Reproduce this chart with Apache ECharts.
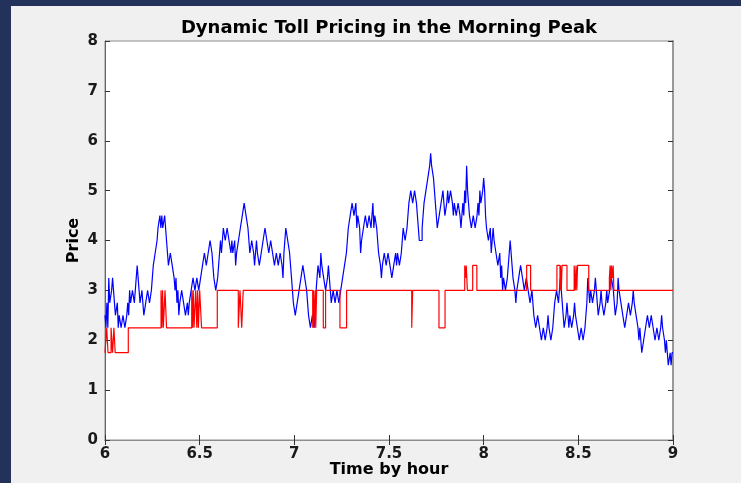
<!DOCTYPE html>
<html>
<head>
<meta charset="utf-8">
<script src="https://cdn.jsdelivr.net/npm/echarts@6/dist/echarts.min.js"></script>
<style>
  html, body { margin: 0; padding: 0; background: #f0f0f0; }
  #chart { width: 741px; height: 483px; }
</style>
</head>
<body>
<div id="chart"></div>
<script>
// Market price, sampled every 0.005 hour starting at 6:00 (one row per 0.05 hour)
const priceStartHour = 6;
const priceStepHour = 0.005;
const marketPrice = [
  2.5, 2.25, 2.75, 2.25, 3.25, 2.75, 2.75, 3.0, 3.25, 3.0,
  2.75, 2.5, 2.5, 2.75, 2.25, 2.5, 2.5, 2.25, 2.25, 2.5,
  2.5, 2.25, 2.25, 2.5, 2.75, 2.5, 3.0, 2.75, 2.75, 3.0,
  3.0, 2.75, 2.75, 3.25, 3.5, 3.25, 3.0, 2.75, 2.75, 3.0,
  2.75, 2.5, 2.5, 2.75, 2.75, 3.0, 3.0, 2.75, 2.75, 3.0,
  3.25, 3.5, 3.5, 3.75, 3.75, 4.0, 4.25, 4.25, 4.5, 4.25,
  4.5, 4.25, 4.25, 4.5, 4.25, 4.0, 3.75, 3.5, 3.5, 3.75,
  3.75, 3.5, 3.5, 3.25, 3.0, 3.25, 2.75, 3.0, 2.5, 2.75,
  2.75, 3.0, 3.0, 2.75, 2.75, 2.5, 2.5, 2.75, 2.5, 2.75,
  2.75, 3.0, 3.0, 3.25, 3.25, 3.0, 3.0, 3.25, 3.25, 3.0,
  3.0, 3.25, 3.25, 3.5, 3.5, 3.75, 3.75, 3.5, 3.5, 3.75,
  3.75, 4.0, 4.0, 3.75, 3.5, 3.25, 3.25, 3.0, 3.0, 3.25,
  3.5, 3.75, 4.0, 3.75, 4.0, 4.25, 4.25, 4.0, 4.0, 4.25,
  4.25, 4.0, 4.0, 3.75, 4.0, 3.75, 3.75, 4.0, 3.5, 3.75,
  3.75, 4.0, 4.0, 4.25, 4.25, 4.5, 4.5, 4.75, 4.75, 4.5,
  4.5, 4.25, 4.0, 3.75, 3.75, 4.0, 4.0, 3.75, 3.5, 3.75,
  4.0, 3.75, 3.75, 3.5, 3.5, 3.75, 3.75, 4.0, 4.0, 4.25,
  4.25, 4.0, 4.0, 3.75, 3.75, 4.0, 4.0, 3.75, 3.75, 3.5,
  3.5, 3.75, 3.75, 3.5, 3.5, 3.75, 3.75, 3.5, 3.25, 3.75,
  4.0, 4.25, 4.25, 4.0, 4.0, 3.75, 3.5, 3.25, 3.0, 2.75,
  2.75, 2.5, 2.5, 2.75, 2.75, 3.0, 3.0, 3.25, 3.25, 3.5,
  3.5, 3.25, 3.25, 3.0, 2.75, 2.5, 2.5, 2.25, 2.25, 2.5,
  2.5, 2.25, 2.75, 3.0, 3.25, 3.5, 3.5, 3.25, 3.75, 3.5,
  3.5, 3.25, 3.25, 3.0, 3.0, 3.25, 3.5, 3.25, 3.0, 2.75,
  2.75, 3.0, 3.0, 2.75, 2.75, 3.0, 3.0, 2.75, 2.75, 3.0,
  3.0, 3.25, 3.25, 3.5, 3.5, 3.75, 4.0, 4.25, 4.25, 4.5,
  4.5, 4.75, 4.75, 4.5, 4.5, 4.75, 4.25, 4.5, 4.5, 4.25,
  3.75, 4.0, 4.0, 4.25, 4.25, 4.5, 4.5, 4.25, 4.25, 4.5,
  4.5, 4.25, 4.5, 4.75, 4.25, 4.5, 4.5, 4.25, 4.0, 3.75,
  3.75, 3.5, 3.25, 3.5, 3.5, 3.75, 3.75, 3.5, 3.5, 3.75,
  3.75, 3.5, 3.5, 3.25, 3.25, 3.5, 3.5, 3.75, 3.5, 3.75,
  3.75, 3.5, 3.5, 3.75, 4.0, 4.25, 4.25, 4.0, 4.0, 4.25,
  4.5, 4.75, 4.75, 5.0, 5.0, 4.75, 4.75, 5.0, 5.0, 4.75,
  4.5, 4.25, 4.0, 4.0, 4.0, 4.25, 4.5, 4.75, 4.75, 5.0,
  5.0, 5.25, 5.25, 5.5, 5.75, 5.5, 5.5, 5.25, 5.0, 4.75,
  4.5, 4.25, 4.25, 4.5, 4.5, 4.75, 4.75, 5.0, 4.75, 4.5,
  4.5, 4.75, 5.0, 4.75, 4.75, 5.0, 5.0, 4.75, 4.5, 4.75,
  4.75, 4.5, 4.5, 4.75, 4.75, 4.5, 4.25, 4.5, 4.75, 4.5,
  5.0, 4.75, 5.5, 5.0, 4.75, 4.5, 4.5, 4.25, 4.25, 4.5,
  4.5, 4.25, 4.25, 4.5, 4.75, 4.5, 5.0, 4.75, 4.75, 5.0,
  5.25, 5.0, 4.5, 4.25, 4.25, 4.0, 4.0, 4.25, 3.75, 4.0,
  4.25, 4.0, 4.0, 3.75, 3.75, 3.5, 3.5, 3.75, 3.25, 3.5,
  3.0, 3.25, 3.25, 3.0, 3.0, 3.25, 3.5, 3.75, 4.0, 3.75,
  3.5, 3.25, 3.25, 3.0, 2.75, 3.0, 3.0, 3.25, 3.25, 3.5,
  3.5, 3.25, 3.25, 3.0, 3.0, 3.25, 3.25, 3.0, 3.0, 2.75,
  2.75, 3.0, 2.75, 2.5, 2.5, 2.25, 2.25, 2.5, 2.5, 2.25,
  2.25, 2.0, 2.0, 2.25, 2.25, 2.0, 2.0, 2.25, 2.5, 2.25,
  2.25, 2.0, 2.0, 2.25, 2.5, 2.75, 2.75, 3.0, 3.0, 2.75,
  3.0, 3.25, 3.25, 2.75, 2.5, 2.25, 2.25, 2.5, 2.75, 2.5,
  2.25, 2.5, 2.5, 2.25, 2.25, 2.5, 2.75, 2.5, 2.5, 2.25,
  2.25, 2.0, 2.0, 2.25, 2.25, 2.0, 2.0, 2.25, 2.5, 2.75,
  3.25, 3.0, 2.75, 3.0, 3.0, 2.75, 2.75, 3.0, 3.25, 3.0,
  2.75, 2.5, 2.5, 2.75, 3.0, 2.75, 2.75, 2.5, 2.5, 2.75,
  3.0, 2.75, 2.75, 3.0, 3.0, 3.25, 3.25, 3.0, 2.75, 2.5,
  2.5, 2.75, 3.25, 3.0, 3.0, 2.75, 2.75, 2.5, 2.5, 2.25,
  2.25, 2.5, 2.5, 2.75, 2.75, 2.5, 2.5, 2.75, 3.0, 2.75,
  2.75, 2.5, 2.5, 2.25, 2.0, 2.25, 2.0, 1.75, 1.75, 2.0,
  2.0, 2.25, 2.25, 2.5, 2.5, 2.25, 2.25, 2.5, 2.5, 2.25,
  2.25, 2.0, 2.0, 2.25, 2.25, 2.0, 2.0, 2.25, 2.5, 2.25,
  2.25, 2.0, 1.75, 2.0, 1.75, 1.5, 1.5, 1.75, 1.5, 1.75,
  1.75
];

// Toll changes: hour at which each toll level takes effect
const tollHours = [
  6.000, 6.009, 6.016, 6.032, 6.040, 6.047, 6.054, 6.123,
  6.296, 6.300, 6.304, 6.308, 6.317, 6.325,
  6.458, 6.462, 6.466, 6.470, 6.479, 6.485, 6.489, 6.493, 6.500, 6.510, 6.593,
  6.704, 6.713, 6.722, 6.730,
  7.097, 7.101, 7.104, 7.110, 7.113, 7.118,
  7.153, 7.165, 7.241, 7.276,
  7.620, 7.625, 7.764, 7.796,
  7.900, 7.904, 7.908, 7.914, 7.942, 7.964,
  8.227, 8.248,
  8.387, 8.403, 8.406, 8.410, 8.414, 8.440,
  8.478, 8.484, 8.488, 8.492, 8.496, 8.555,
  8.664, 8.668, 8.672, 8.675, 8.680, 8.684, 8.688,
  9.000
];
const tollLevels = [
  1.75, 2.25, 1.75, 2.25, 1.75, 2.25, 1.75, 2.25,
  3.0, 2.25, 3.0, 2.25, 3.0, 2.25,
  3.0, 2.25, 3.0, 2.25, 3.0, 2.25, 3.0, 2.25, 3.0, 2.25, 3.0,
  2.25, 3.0, 2.25, 3.0,
  2.25, 3.0, 2.25, 3.0, 2.25, 3.0,
  2.25, 3.0, 2.25, 3.0,
  2.25, 3.0, 2.25, 3.0,
  3.5, 3.25, 3.5, 3.0, 3.5, 3.0,
  3.5, 3.0,
  3.5, 3.0, 3.5, 3.0, 3.5, 3.0,
  3.5, 3.0, 3.5, 3.0, 3.5, 3.0,
  3.25, 3.5, 3.0, 3.5, 3.25, 3.5, 3.0,
  3.0
];

const xTicks = { min: 6, max: 9, step: 0.5 };
const yTicks = { min: 0, max: 8, step: 1 };

const priceSeries = marketPrice.map((v, i) => [priceStartHour + i * priceStepHour, v]);
const tollSeries = tollHours.map((h, i) => [h, tollLevels[i]]);

const FONT = 'DejaVu Sans';
const labelStyle = { color: '#1a1a1a', fontFamily: FONT, fontWeight: 'bold', fontSize: 15 };

const chart = echarts.init(document.getElementById('chart'), null, { renderer: 'canvas' });
chart.setOption({
  animation: false,
  backgroundColor: '#f0f0f0',
  title: {
    text: 'Dynamic Toll Pricing in the Morning Peak',
    left: 384, top: 14, textAlign: 'center',
    textStyle: { color: '#000', fontFamily: FONT, fontWeight: 'bold', fontSize: 18 }
  },
  graphic: [
    { type: 'rect', shape: { x: 0, y: 0, width: 741, height: 6 }, style: { fill: '#22325a' }, silent: true },
    { type: 'rect', shape: { x: 0, y: 0, width: 11, height: 483 }, style: { fill: '#22325a' }, silent: true }
  ],
  grid: {
    left: 105, top: 41, right: 68, bottom: 43,
    containLabel: false, outerBoundsMode: 'none',
    show: true, backgroundColor: '#ffffff', borderColor: '#8c8c8c', borderWidth: 1
  },
  xAxis: [
    {
      type: 'value', min: xTicks.min, max: xTicks.max, interval: xTicks.step,
      position: 'bottom',
      name: 'Time by hour', nameLocation: 'middle', nameGap: 22, nameMoveOverlap: false,
      nameTextStyle: { color: '#000', fontFamily: FONT, fontWeight: 'bold', fontSize: 16, verticalAlign: 'top' },
      axisLine: { show: true, lineStyle: { color: '#666', width: 1 } },
      axisTick: { show: true, inside: true, length: 5, lineStyle: { color: '#333' } },
      axisLabel: Object.assign({ margin: 7 }, labelStyle),
      splitLine: { show: false }
    },
    {
      type: 'value', min: xTicks.min, max: xTicks.max, interval: xTicks.step,
      position: 'top',
      axisLine: { show: true, lineStyle: { color: '#8c8c8c', width: 1 } },
      axisTick: { show: true, inside: true, length: 5, lineStyle: { color: '#333' } },
      axisLabel: { show: false },
      splitLine: { show: false }
    }
  ],
  yAxis: [
    {
      type: 'value', min: yTicks.min, max: yTicks.max, interval: yTicks.step,
      position: 'left',
      name: 'Price', nameLocation: 'middle', nameGap: 23, nameMoveOverlap: false,
      nameTextStyle: { color: '#000', fontFamily: FONT, fontWeight: 'bold', fontSize: 16 },
      axisLine: { show: true, lineStyle: { color: '#666', width: 1 } },
      axisTick: { show: true, inside: true, length: 5, lineStyle: { color: '#333' } },
      axisLabel: Object.assign({ margin: 7 }, labelStyle),
      splitLine: { show: false }
    },
    {
      type: 'value', min: yTicks.min, max: yTicks.max, interval: yTicks.step,
      position: 'right',
      axisLine: { show: true, lineStyle: { color: '#999', width: 2 } },
      axisTick: { show: true, inside: true, length: 5, lineStyle: { color: '#333' } },
      axisLabel: { show: false },
      splitLine: { show: false }
    }
  ],
  series: [
    {
      name: 'Market price', type: 'line', step: 'end', data: priceSeries,
      showSymbol: false, symbol: 'none',
      lineStyle: { color: '#0000ff', width: 1.2 }
    },
    {
      name: 'Toll', type: 'line', step: 'end', data: tollSeries,
      showSymbol: false, symbol: 'none',
      lineStyle: { color: '#ff0000', width: 1.2 }
    }
  ]
});
</script>
</body>
</html>
